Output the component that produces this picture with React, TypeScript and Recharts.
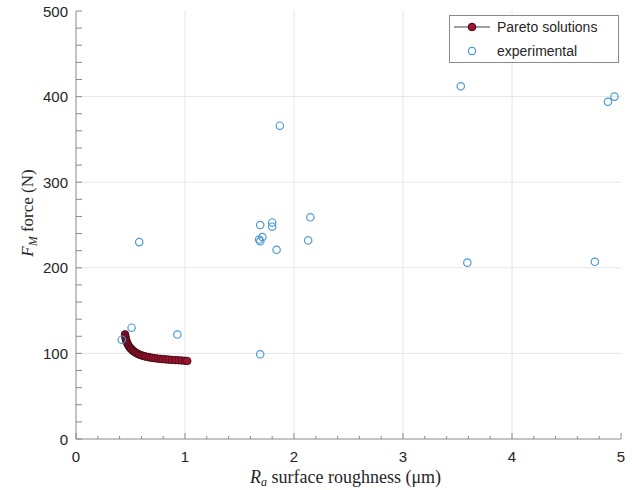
import React from "react";
import {
  Label,
  Legend,
  ReferenceLine,
  Scatter,
  ScatterChart,
  XAxis,
  YAxis,
} from "recharts";

// Pareto front (Ra in µm, force in N)
const paretoRa = [
  0.45, 0.452, 0.455, 0.459, 0.463, 0.468, 0.474, 0.48, 0.487, 0.495, 0.503, 0.511, 0.52,
  0.53, 0.541, 0.553, 0.566, 0.58, 0.595, 0.611, 0.628, 0.646, 0.665, 0.685, 0.706, 0.728,
  0.751, 0.775, 0.8, 0.826, 0.853, 0.881, 0.91, 0.94, 0.97, 1.0, 1.021,
];
const paretoForce = [
  122.3, 120.3, 118.3, 116.3, 114.5, 112.7, 111.0, 109.6, 108.1, 106.7, 105.5, 104.5, 103.4,
  102.4, 101.4, 100.4, 99.5, 98.7, 98.0, 97.3, 96.7, 96.1, 95.6, 95.1, 94.7, 94.3,
  93.9, 93.6, 93.3, 93.0, 92.7, 92.4, 92.2, 92.0, 91.7, 91.4, 91.1,
];

// experimental runs
const expRa = [
  0.42, 0.51, 0.58, 0.93, 1.69, 1.69, 1.68, 1.69, 1.71, 1.8, 1.8, 1.84, 1.87, 2.13, 2.15,
  3.53, 3.59, 4.76, 4.88, 4.94,
];
const expForce = [
  116, 130, 230, 122, 99, 250, 233, 231, 236, 253, 248, 221, 366, 232, 259, 412, 206, 207,
  394, 400,
];

const xMajor = [1, 2, 3, 4];
const yMajor = [100, 200, 300, 400];
const xTicks = [
  0, 0.2, 0.4, 0.6, 0.8, 1, 1.2, 1.4, 1.6, 1.8, 2, 2.2, 2.4, 2.6, 2.8, 3, 3.2, 3.4, 3.6, 3.8,
  4, 4.2, 4.4, 4.6, 4.8, 5,
];
const yTicks = [
  0, 20, 40, 60, 80, 100, 120, 140, 160, 180, 200, 220, 240, 260, 280, 300, 320, 340, 360,
  380, 400, 420, 440, 460, 480, 500,
];

const pareto = paretoRa.map((x, i) => ({ x, y: paretoForce[i] }));
const experimental = expRa.map((x, i) => ({ x, y: expForce[i] }));

const AXIS = "#8a8a8a";
const TEXT = "#262626";
const SANS = "'Liberation Sans', Arial, sans-serif";
const SERIF = "'Liberation Serif', 'Times New Roman', serif";
const isMajor = (v: number) => v % 100 === 0 || Number.isInteger(v);

function makeTick(side: "bottom" | "top" | "left" | "right") {
  return (props: any) => {
    const { x, y, payload } = props;
    const v = payload.value as number;
    const len = isMajor(v) ? 6 : 3;
    if (side === "bottom" || side === "top") {
      const dir = side === "bottom" ? -1 : 1;
      return (
        <g>
          <line x1={x} x2={x} y1={y} y2={y + dir * len} stroke={AXIS} />
          {side === "bottom" && Number.isInteger(v) && (
            <text x={x} y={y + 23} textAnchor="middle" fill={TEXT} fontSize={15} fontFamily={SANS}>
              {v}
            </text>
          )}
        </g>
      );
    }
    const dir = side === "left" ? 1 : -1;
    return (
      <g>
        <line x1={x} x2={x + dir * len} y1={y} y2={y} stroke={AXIS} />
        {side === "left" && v % 100 === 0 && (
          <text x={x - 8} y={y + 5.5} textAnchor="end" fill={TEXT} fontSize={15} fontFamily={SANS}>
            {v}
          </text>
        )}
      </g>
    );
  };
}

function LegendBox() {
  return (
    <svg width={170} height={48} style={{ display: "block" }}>
      <rect x={0.5} y={0.5} width={169} height={47} fill="#fff" stroke={AXIS} />
      <line x1={5} x2={41} y1={12} y2={12} stroke="#404040" />
      <circle cx={23} cy={12} r={3.8} fill="#a2142f" stroke="#3a0a10" />
      <text x={48} y={17} fontSize={14} fontFamily={SANS} fill={TEXT}>
        Pareto solutions
      </text>
      <circle cx={23} cy={36} r={3.7} fill="none" stroke="#4a9ad6" strokeWidth={1.2} />
      <text x={48} y={41} fontSize={14} fontFamily={SANS} fill={TEXT}>
        experimental
      </text>
    </svg>
  );
}

export default function App() {
  return (
    <div style={{ position: "absolute", left: 0, top: 0, width: 632, height: 490, background: "#fff" }}>
      <ScatterChart width={632} height={490} margin={{ top: 11, right: 11, bottom: 0, left: 0 }}>
        <XAxis
          type="number"
          dataKey="x"
          domain={[0, 5]}
          allowDataOverflow
          ticks={xTicks}
          interval={0}
          height={51}
          tickSize={0}
          tickMargin={0}
          tickLine={false}
          axisLine={{ stroke: AXIS }}
          tick={makeTick("bottom")}
        >
          <Label
            content={({ viewBox }: any) => (
              <text
                x={viewBox.x + viewBox.width / 2 - 3}
                y={viewBox.y + 44}
                textAnchor="middle"
                fontSize={18}
                fontFamily={SERIF}
                fill={TEXT}
              >
                <tspan fontStyle="italic">R</tspan>
                <tspan fontStyle="italic" fontSize={12} dy={3}>a</tspan>
                <tspan dy={-3}> surface roughness (μm)</tspan>
              </text>
            )}
          />
        </XAxis>
        <XAxis
          xAxisId="top"
          orientation="top"
          type="number"
          domain={[0, 5]}
          allowDataOverflow
          ticks={xTicks}
          interval={0}
          height={0}
          tickSize={0}
          tickMargin={0}
          tickLine={false}
          axisLine={{ stroke: AXIS }}
          tick={makeTick("top")}
        />
        <YAxis
          type="number"
          dataKey="y"
          domain={[0, 500]}
          allowDataOverflow
          ticks={yTicks}
          interval={0}
          width={76}
          tickSize={0}
          tickMargin={0}
          tickLine={false}
          axisLine={{ stroke: AXIS }}
          tick={makeTick("left")}
        >
          <Label
            content={() => (
              <text
                x={33}
                y={213}
                transform="rotate(-90, 33, 213)"
                textAnchor="middle"
                fontSize={17}
                fontFamily={SERIF}
                fill={TEXT}
              >
                <tspan fontStyle="italic">F</tspan>
                <tspan fontStyle="italic" fontSize={12} dy={4}>M</tspan>
                <tspan dy={-4}> force (N)</tspan>
              </text>
            )}
          />
        </YAxis>
        <YAxis
          yAxisId="right"
          orientation="right"
          type="number"
          domain={[0, 500]}
          allowDataOverflow
          ticks={yTicks}
          interval={0}
          width={0}
          tickSize={0}
          tickMargin={0}
          tickLine={false}
          axisLine={{ stroke: AXIS }}
          tick={makeTick("right")}
        />
        {xMajor.map((v) => (
          <ReferenceLine key={`gx${v}`} x={v} stroke="#e6e6e6" />
        ))}
        {yMajor.map((v) => (
          <ReferenceLine key={`gy${v}`} y={v} stroke="#e6e6e6" />
        ))}
        <Legend
          layout="vertical"
          align="center"
          verticalAlign="middle"
          content={() => <LegendBox />}
          wrapperStyle={{ left: 449, top: 15, width: 170, height: 48 }}
        />
        <Scatter
          name="Pareto solutions"
          data={pareto}
          isAnimationActive={false}
          line={{ stroke: "#404040", strokeWidth: 1 }}
          shape={(p: any) => (
            <circle cx={p.cx} cy={p.cy} r={3.8} fill="#a2142f" stroke="#3a0a10" strokeWidth={0.8} />
          )}
        />
        <Scatter
          name="experimental"
          data={experimental}
          isAnimationActive={false}
          shape={(p: any) => (
            <circle cx={p.cx} cy={p.cy} r={3.7} fill="none" stroke="#4a9ad6" strokeWidth={1.2} />
          )}
        />
      </ScatterChart>
    </div>
  );
}
